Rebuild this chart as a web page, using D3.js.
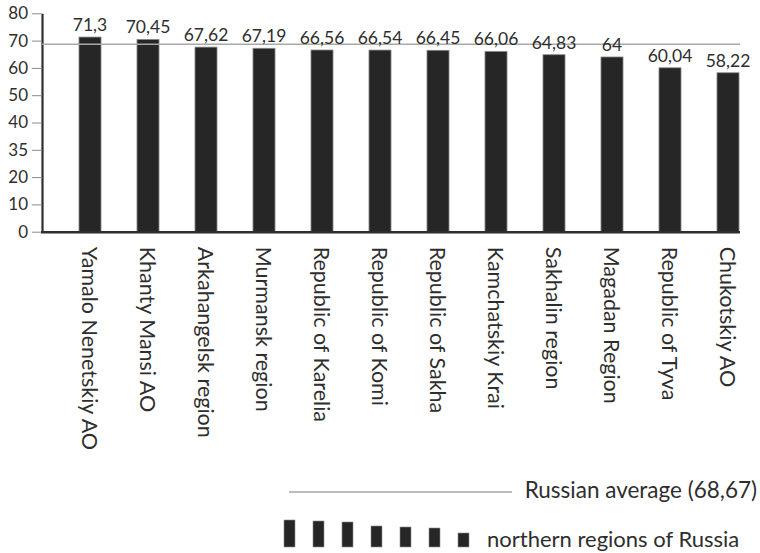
<!DOCTYPE html>
<html>
<head>
<meta charset="utf-8">
<script src="https://cdn.jsdelivr.net/npm/d3@7"></script>
<style>
  html, body { margin: 0; padding: 0; background: #fff; }
  svg { display: block; font-family: Lato, "Open Sans", sans-serif; }
</style>
</head>
<body>
<svg id="chart" width="760" height="553"></svg>
<script>
// Regions and their values
const regions = [
  "Yamalo Nenetskiy AO", "Khanty Mansi AO", "Arkahangelsk region", "Murmansk region",
  "Republic of Karelia", "Republic of Komi", "Republic of Sakha", "Kamchatskiy Krai",
  "Sakhalin region", "Magadan Region", "Republic of Tyva", "Chukotskiy AO"
];
const values = [71.3, 70.45, 67.62, 67.19, 66.56, 66.54, 66.45, 66.06, 64.83, 64, 60.04, 58.22];
const valueLabels = ["71,3", "70,45", "67,62", "67,19", "66,56", "66,54", "66,45", "66,06", "64,83", "64", "60,04", "58,22"];
const russianAverage = 68.67;
const averageLabel = "Russian average (68,67)";
const seriesLabel = "northern regions of Russia";
const yTickValues = [0, 10, 20, 30, 40, 50, 60, 70, 80];
const yTickLabels = ["0", "10", "20", "35", "40", "50", "60", "70", "80"];

const svg = d3.select("#chart");
const textColor = "#2e2e2e";
const barColor = "#262626";

const axisX = 42;       // position of the vertical axis
const plotRight = 740;  // right end of the baseline and the average line

const y = d3.scaleLinear().domain([0, 80]).range([231.7, 13.3]);
const x = d3.scaleBand()
  .domain(regions)
  .range([61, 757])
  .paddingInner(0.62)
  .paddingOuter(0.31);

// Vertical axis
const yAxis = svg.append("g")
  .attr("transform", `translate(${axisX},0)`)
  .call(d3.axisLeft(y)
    .tickValues(yTickValues)
    .tickFormat((d, i) => yTickLabels[i])
    .tickSize(10)
    .tickSizeOuter(0)
    .tickPadding(4));
yAxis.select(".domain").attr("stroke", textColor).attr("stroke-width", 2.2);
yAxis.selectAll(".tick line").attr("stroke", "#8a8a8a").attr("stroke-width", 1);
yAxis.selectAll(".tick text")
  .attr("fill", textColor)
  .style("font-family", "Lato, sans-serif")
  .style("font-size", "17px");

// Bars
svg.append("g").selectAll("rect")
  .data(values)
  .join("rect")
  .attr("x", (d, i) => x(regions[i]))
  .attr("width", x.bandwidth())
  .attr("y", d => y(d))
  .attr("height", d => y(0) - y(d))
  .attr("fill", barColor)
  .attr("stroke", "#8c8c8c")
  .attr("stroke-width", 0.8);

// Baseline
svg.append("line")
  .attr("x1", axisX - 1).attr("x2", plotRight)
  .attr("y1", y(0) + 0.6).attr("y2", y(0) + 0.6)
  .attr("stroke", textColor)
  .attr("stroke-width", 2.4);

// Russian average line
svg.append("line")
  .attr("x1", axisX).attr("x2", plotRight)
  .attr("y1", y(russianAverage)).attr("y2", y(russianAverage))
  .attr("stroke", "#a8a8a8")
  .attr("stroke-width", 1.3);

// Value labels
svg.append("g").selectAll("text")
  .data(values)
  .join("text")
  .attr("x", (d, i) => x(regions[i]) + x.bandwidth() / 2)
  .attr("y", d => y(d) - 6)
  .attr("text-anchor", "middle")
  .attr("fill", textColor)
  .style("font-size", "17.5px")
  .text((d, i) => valueLabels[i]);

// Category labels, rotated to read downward
const xAxis = svg.append("g")
  .attr("transform", `translate(0,${y(0)})`)
  .call(d3.axisBottom(x).tickSize(0).tickPadding(0));
xAxis.select(".domain").remove();
xAxis.selectAll(".tick text")
  .attr("transform", "rotate(90)")
  .attr("x", 15)
  .attr("y", 0)
  .attr("dy", "0.36em")
  .attr("text-anchor", "start")
  .attr("fill", textColor)
  .style("font-family", "Lato, sans-serif")
  .style("font-size", "21.5px");

// Legend: average line
const legend = svg.append("g");
legend.append("line")
  .attr("x1", 289).attr("x2", 512)
  .attr("y1", 492).attr("y2", 492)
  .attr("stroke", "#a8a8a8")
  .attr("stroke-width", 1.3);
legend.append("text")
  .attr("x", 757).attr("y", 498)
  .attr("text-anchor", "end")
  .attr("fill", textColor)
  .style("font-size", "22.5px")
  .text(averageLabel);

// Legend: bar glyphs of falling height
const glyphHeights = [27, 26, 25, 21, 20, 19, 14];
legend.selectAll("rect.glyph")
  .data(glyphHeights)
  .join("rect")
  .attr("class", "glyph")
  .attr("x", (d, i) => 284 + i * 29)
  .attr("y", d => 547 - d)
  .attr("width", 11)
  .attr("height", d => d)
  .attr("fill", barColor)
  .attr("stroke", "#8c8c8c")
  .attr("stroke-width", 0.6);
legend.append("text")
  .attr("x", 487).attr("y", 547)
  .attr("fill", textColor)
  .style("font-size", "22px")
  .text(seriesLabel);
</script>
</body>
</html>
